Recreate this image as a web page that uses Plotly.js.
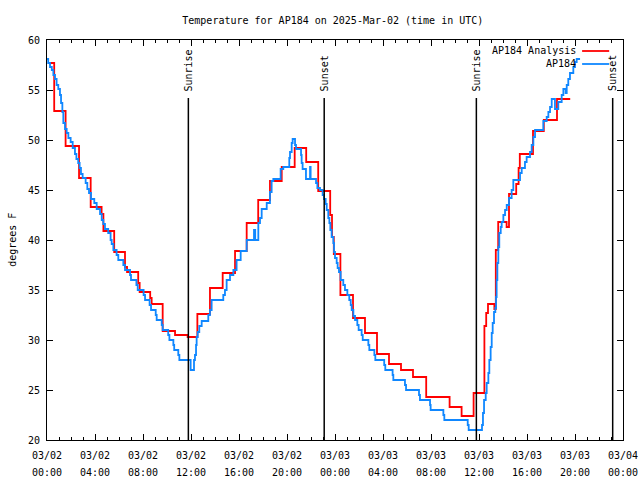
<!DOCTYPE html>
<html>
<head>
<meta charset="utf-8">
<script src="https://cdn.plot.ly/plotly-3.0.1.min.js"></script>
<style>
  html, body { margin: 0; padding: 0; background: #ffffff; }
  #chart { width: 640px; height: 480px; }
</style>
</head>
<body>
<div id="chart"></div>
<script>
// Hours since 2025-03-02 00:00 UTC
const seriesNames = ['AP184 Analysis', 'AP184'];

const analysisTime = [0.08, 0.6, 1.55, 2.67, 3.64, 4.55, 4.7, 5.6, 6.5, 6.67, 7.6, 7.72, 8.6, 8.72, 9.64, 10.67, 11.72, 12.53, 13.58, 14.64, 15.67, 16.64, 17.6, 18.58, 19.56, 20.64, 21.6, 22.6, 23.6, 23.75, 23.9, 24.45, 25.5, 26.5, 27.5, 28.5, 29.5, 30.5, 31.6, 33.55, 34.55, 35.55, 36.45, 36.6, 36.75, 37.28, 37.4, 37.6, 38.3, 38.5, 39.1, 39.3, 39.4, 40.5, 41.4, 42.5, 43.6];
const analysisTemp = [57.7, 52.9, 49.4, 46.2, 43.3, 42.6, 40.9, 38.8, 37.3, 36.8, 35.7, 34.8, 34.2, 33.6, 30.9, 30.5, 30.3, 32.6, 35.2, 36.7, 38.9, 41.7, 44.0, 45.9, 47.3, 49.2, 47.8, 44.9, 42.5, 40.3, 38.6, 34.5, 32.2, 30.7, 28.6, 27.6, 27.0, 26.3, 24.3, 23.3, 22.4, 24.7, 31.4, 32.7, 33.6, 33.1, 39.0, 41.8, 41.3, 44.6, 45.6, 47.2, 48.6, 50.9, 52.0, 54.1, 54.1];

const obsTime = [0.00, 0.10, 0.25, 0.40, 0.53, 0.67, 0.80, 0.94, 1.08, 1.17, 1.28, 1.36, 1.50, 1.64, 1.78, 1.97, 2.14, 2.33, 2.45, 2.60, 2.72, 2.83, 2.97, 3.22, 3.36, 3.50, 3.67, 3.94, 4.14, 4.42, 4.56, 4.69, 4.83, 5.10, 5.30, 5.39, 5.53, 5.80, 5.94, 6.36, 6.50, 6.92, 7.00, 7.45, 7.56, 8.05, 8.17, 8.55, 8.67, 9.06, 9.14, 9.56, 9.64, 10.10, 10.20, 10.53, 10.60, 10.94, 11.03, 11.97, 12.25, 12.33, 12.42, 12.47, 12.56, 12.69, 12.89, 13.44, 13.58, 13.72, 14.69, 14.83, 14.97, 15.25, 15.53, 15.80, 16.14, 16.64, 17.25, 17.35, 17.61, 17.75, 17.89, 18.31, 18.58, 18.72, 18.86, 19.47, 19.69, 20.19, 20.25, 20.39, 20.47, 20.67, 20.75, 21.17, 21.22, 21.30, 21.58, 21.92, 21.97, 22.42, 22.53, 22.75, 22.97, 23.08, 23.22, 23.31, 23.44, 23.53, 23.61, 23.72, 23.86, 23.92, 24.00, 24.14, 24.22, 24.33, 24.47, 24.69, 24.83, 25.03, 25.19, 25.31, 25.39, 25.53, 25.67, 25.86, 25.97, 26.22, 26.31, 26.78, 26.86, 27.28, 27.36, 28.10, 28.19, 28.80, 28.86, 29.83, 29.92, 31.00, 31.08, 31.92, 31.97, 33.03, 33.11, 35.06, 35.14, 36.25, 36.33, 36.42, 36.56, 36.64, 36.78, 36.86, 36.97, 37.06, 37.14, 37.25, 37.36, 37.42, 37.47, 37.53, 37.61, 37.69, 37.81, 37.89, 38.03, 38.17, 38.31, 38.50, 38.72, 38.86, 39.42, 39.56, 39.83, 39.97, 40.25, 40.39, 40.53, 40.67, 41.36, 41.64, 41.78, 41.92, 42.06, 42.33, 42.61, 42.89, 43.03, 43.22, 43.31, 43.44, 43.58, 43.86, 44.00, 44.14, 44.42];
const obsTemp = [58.1, 57.7, 57.3, 57.0, 56.5, 56.1, 55.5, 55.1, 54.5, 53.7, 52.8, 51.7, 51.1, 50.7, 50.2, 49.8, 49.2, 48.6, 48.1, 47.7, 47.2, 46.6, 46.2, 45.7, 45.1, 44.7, 44.1, 43.7, 43.1, 42.6, 42.0, 41.6, 41.1, 40.7, 40.0, 39.6, 39.0, 38.5, 38.0, 37.5, 37.0, 36.5, 36.0, 35.5, 35.0, 34.5, 34.0, 33.5, 33.0, 32.5, 32.0, 31.5, 31.0, 30.5, 30.0, 29.5, 29.0, 28.5, 28.0, 27.0, 28.0, 28.5, 29.5, 30.3, 30.8, 31.4, 31.9, 32.5, 33.0, 34.0, 34.5, 35.0, 36.0, 36.5, 37.0, 38.0, 38.9, 40.0, 41.0, 40.0, 41.7, 42.2, 43.1, 43.7, 44.8, 45.9, 46.1, 47.1, 47.3, 48.2, 48.8, 49.7, 50.1, 49.5, 49.1, 48.5, 47.7, 47.1, 46.1, 47.3, 46.1, 45.7, 45.2, 45.0, 44.5, 44.1, 43.6, 43.0, 42.2, 41.7, 41.0, 40.3, 39.7, 38.8, 38.2, 37.7, 37.2, 36.8, 36.0, 35.5, 35.0, 34.5, 34.0, 33.5, 33.0, 32.4, 32.0, 31.5, 31.0, 30.5, 30.0, 29.5, 29.0, 28.5, 28.0, 27.5, 27.0, 26.5, 26.0, 25.5, 25.0, 24.5, 24.0, 23.5, 23.0, 22.5, 22.0, 21.5, 21.0, 21.5, 22.7, 24.0, 24.7, 25.7, 26.7, 28.0, 29.3, 30.7, 31.7, 32.8, 33.2, 34.3, 36.0, 37.7, 39.3, 40.7, 41.3, 41.8, 42.5, 43.0, 43.5, 44.2, 45.0, 46.0, 46.7, 47.2, 47.8, 48.3, 48.8, 49.5, 50.3, 51.0, 51.9, 52.3, 52.8, 53.3, 54.1, 53.1, 53.8, 54.5, 55.1, 54.7, 55.5, 56.1, 56.7, 57.3, 57.8, 58.1, 58.1];

const sunTimes = [11.78, 23.1, 35.78, 47.14];
const sunLabels = ['Sunrise', 'Sunset', 'Sunrise', 'Sunset'];

const xTickVals = [0, 4, 8, 12, 16, 20, 24, 28, 32, 36, 40, 44, 48];
const xTickDates = ['03/02', '03/02', '03/02', '03/02', '03/02', '03/02', '03/03', '03/03', '03/03', '03/03', '03/03', '03/03', '03/04'];
const xTickTimes = ['00:00', '04:00', '08:00', '12:00', '16:00', '20:00', '00:00', '04:00', '08:00', '12:00', '16:00', '20:00', '00:00'];

const FONT = 'DejaVu Sans Mono, Liberation Mono, monospace';
const RED = '#ff0000';
const BLUE = '#0f87ff';
const colors = [RED, BLUE];
const tickFont = { family: FONT, size: 10, color: '#000000' };

const traces = [
  { x: analysisTime, y: analysisTemp, name: seriesNames[0], type: 'scatter', mode: 'lines',
    line: { shape: 'hv', color: RED, width: 1.8 }, showlegend: false },
  { x: obsTime, y: obsTemp, name: seriesNames[1], type: 'scatter', mode: 'lines',
    line: { shape: 'hv', color: BLUE, width: 1.8 }, showlegend: false }
];

const shapes = [];
const annotations = [];
sunTimes.forEach((t, i) => {
  shapes.push({ type: 'line', xref: 'x', yref: 'paper', x0: t, x1: t, y0: 0, y1: 0.855,
                line: { color: '#000000', width: 1.5 } });
  annotations.push({ xref: 'x', yref: 'paper', x: t, y: 0.867, text: sunLabels[i], showarrow: false,
                     textangle: -90, xanchor: 'center', yanchor: 'bottom', font: tickFont });
});

// second row of x tick labels (time of day)
xTickVals.forEach((v, i) => {
  annotations.push({ xref: 'x', yref: 'paper', x: v, y: -0.08, text: xTickTimes[i], showarrow: false,
                     xanchor: 'center', yanchor: 'middle', font: tickFont });
});

// legend (gnuplot style: text then sample line on the right)
const legendY = [0.975, 0.9425];
seriesNames.forEach((n, i) => {
  annotations.push({ xref: 'paper', yref: 'paper', x: 0.9225, y: legendY[i], text: n, showarrow: false,
                     xanchor: 'right', yanchor: 'middle', font: tickFont });
  shapes.push({ type: 'line', xref: 'paper', yref: 'paper', x0: 0.929, x1: 0.976, y0: legendY[i] - 0.0025, y1: legendY[i] - 0.0025,
                line: { color: colors[i], width: 1.8 } });
});

annotations.push({ xref: 'paper', yref: 'paper', x: -0.061, y: 0.5, text: 'degrees F', showarrow: false,
                   textangle: -90, xanchor: 'center', yanchor: 'middle', font: tickFont });

const layout = {
  width: 640, height: 480,
  margin: { l: 47, r: 17, t: 40, b: 40, pad: 0 },
  paper_bgcolor: '#ffffff', plot_bgcolor: '#ffffff',
  font: { family: FONT, size: 10, color: '#000000' },
  title: { text: 'Temperature for AP184 on 2025-Mar-02 (time in UTC)', x: 0.52, xanchor: 'center', y: 0.958, yanchor: 'middle',
           font: tickFont },
  xaxis: {
    range: [0, 48], tickmode: 'array', tickvals: xTickVals, ticktext: xTickDates,
    showgrid: false, zeroline: false, showline: true, linecolor: '#000000', linewidth: 1, mirror: 'ticks',
    ticks: 'inside', ticklen: 6, tickcolor: '#000000', tickwidth: 1, ticklabelstandoff: 6,
    minor: { tickmode: 'linear', tick0: 0, dtick: 1, ticks: 'inside', ticklen: 3, tickcolor: '#000000', showgrid: false },
    tickfont: tickFont, fixedrange: true
  },
  yaxis: {
    range: [20, 60], tickmode: 'linear', tick0: 20, dtick: 5,
    showgrid: false, zeroline: false, showline: true, linecolor: '#000000', linewidth: 1, mirror: 'ticks',
    ticks: 'inside', ticklen: 6, tickcolor: '#000000', tickwidth: 1, ticklabelstandoff: 4,
    tickfont: tickFont, fixedrange: true
  },
  shapes: shapes,
  annotations: annotations,
  showlegend: false
};

Plotly.newPlot('chart', traces, layout, { displayModeBar: false, staticPlot: true });
</script>
</body>
</html>
